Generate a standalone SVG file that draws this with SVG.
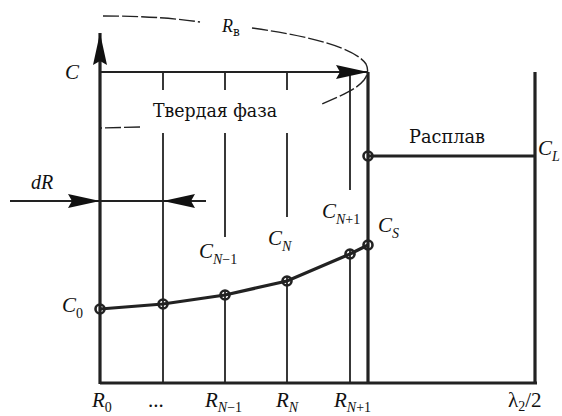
<svg xmlns="http://www.w3.org/2000/svg" width="562" height="416" viewBox="0 0 562 416">
<style>
.thick{stroke:#222;stroke-width:3.2;fill:none}
.thin{stroke:#222;stroke-width:1.8;fill:none}
.dash{stroke:#222;stroke-width:1.4;fill:none;stroke-dasharray:16 3}
.mk{stroke:#222;stroke-width:2.6;fill:none}
text{font-family:"Liberation Serif","Times New Roman",serif;fill:#111}
.cyr{font-family:"DejaVu Serif","Liberation Serif",serif}
.it{font-style:italic}
.lab{font-size:21px}
.sub{font-size:14px}
</style>
<defs>
<marker id="ah" markerUnits="userSpaceOnUse" viewBox="0 0 32 14" markerWidth="32" markerHeight="14" refX="32" refY="7" orient="auto">
<path d="M0,0 L32,7 L0,14 L4,7 z" fill="#111"/>
</marker>
</defs>
<rect width="562" height="416" fill="#fff"/>
<g id="frame">
<line class="thick" x1="100" y1="383" x2="537" y2="383"/>
<line class="thick" x1="535" y1="72" x2="535" y2="384"/>
<line class="thick" x1="368" y1="72" x2="368" y2="384"/>
<line class="thick" x1="368" y1="156" x2="535" y2="156"/>
</g>
<g id="grid">
<line class="thin" x1="163" y1="72" x2="163" y2="90"/>
<line class="thin" x1="163" y1="133" x2="163" y2="383"/>
<line class="thin" x1="225" y1="72" x2="225" y2="90"/>
<line class="thin" x1="225" y1="133" x2="225" y2="237"/>
<line class="thin" x1="225" y1="290" x2="225" y2="383"/>
<line class="thin" x1="287" y1="72" x2="287" y2="90"/>
<line class="thin" x1="287" y1="133" x2="287" y2="217"/>
<line class="thin" x1="287" y1="276" x2="287" y2="383"/>
<line class="thin" x1="350" y1="72" x2="350" y2="190"/>
<line class="thin" x1="350" y1="249" x2="350" y2="383"/>
</g>
<g id="connectors">
<line class="thick" x1="100" y1="384" x2="100" y2="33" marker-end="url(#ah)"/>
<line class="thin" x1="100" y1="72" x2="368" y2="72" marker-end="url(#ah)"/>
<line class="thin" x1="10" y1="201" x2="206" y2="201"/>
<line class="thin" x1="60" y1="201" x2="100" y2="201" marker-end="url(#ah)"/>
<line class="thin" x1="200" y1="201" x2="163" y2="201" marker-end="url(#ah)"/>
<path class="dash" d="M103,16 C150,16 180,19 200,22"/>
<path class="dash" d="M252,28 C310,36 355,48 366,64 Q370,72 364,80 C356,90 340,96 322,104"/>
<path class="dash" d="M140,127 L100,128"/>
<polyline class="thick" points="100,309 163,304 225,295 287,281 350,254 368,245"/>
</g>
<g id="points">
<circle class="mk" cx="100" cy="309" r="4.5"/>
<circle class="mk" cx="163" cy="304" r="4.5"/>
<circle class="mk" cx="225" cy="295" r="4.5"/>
<circle class="mk" cx="287" cy="281" r="4.5"/>
<circle class="mk" cx="350" cy="254" r="4.5"/>
<circle class="mk" cx="368" cy="245" r="4.5"/>
<circle class="mk" cx="368" cy="156" r="4.5"/>
</g>
<g id="labels">
<text class="it lab" x="65" y="79">C</text>
<text class="it" x="222" y="32" font-size="18">R<tspan class="cyr" font-style="normal" font-size="12" dy="4">в</tspan></text>
<text class="cyr" x="153" y="117" font-size="18" textLength="124" lengthAdjust="spacingAndGlyphs">Твердая фаза</text>
<text class="cyr" x="409" y="143" font-size="18" textLength="76" lengthAdjust="spacingAndGlyphs">Расплав</text>
<text class="it lab" x="538" y="155">C<tspan class="sub" dy="6">L</tspan></text>
<text class="it" x="31" y="189" font-size="20">dR</text>
<text class="it lab" x="62" y="312">C<tspan class="sub" font-style="normal" dy="6">0</tspan></text>
<text class="it lab" x="199" y="258">C<tspan class="sub" dy="6">N<tspan font-style="normal">−1</tspan></tspan></text>
<text class="it lab" x="268" y="245">C<tspan class="sub" dy="6">N</tspan></text>
<text class="it lab" x="322" y="218">C<tspan class="sub" dy="6">N<tspan font-style="normal">+1</tspan></tspan></text>
<text class="it lab" x="378" y="232">C<tspan class="sub" dy="6">S</tspan></text>
<text class="it lab" x="92" y="407">R<tspan class="sub" font-style="normal" dy="5">0</tspan></text>
<text class="lab" x="148" y="407">...</text>
<text class="it lab" x="205" y="407">R<tspan class="sub" dy="5">N<tspan font-style="normal">−1</tspan></tspan></text>
<text class="it lab" x="276" y="407">R<tspan class="sub" dy="5">N</tspan></text>
<text class="it lab" x="334" y="407">R<tspan class="sub" dy="5">N<tspan font-style="normal">+1</tspan></tspan></text>
<text class="lab" x="508" y="407">λ<tspan class="sub" dy="4">2</tspan><tspan dy="-4">/2</tspan></text>
</g>
</svg>
